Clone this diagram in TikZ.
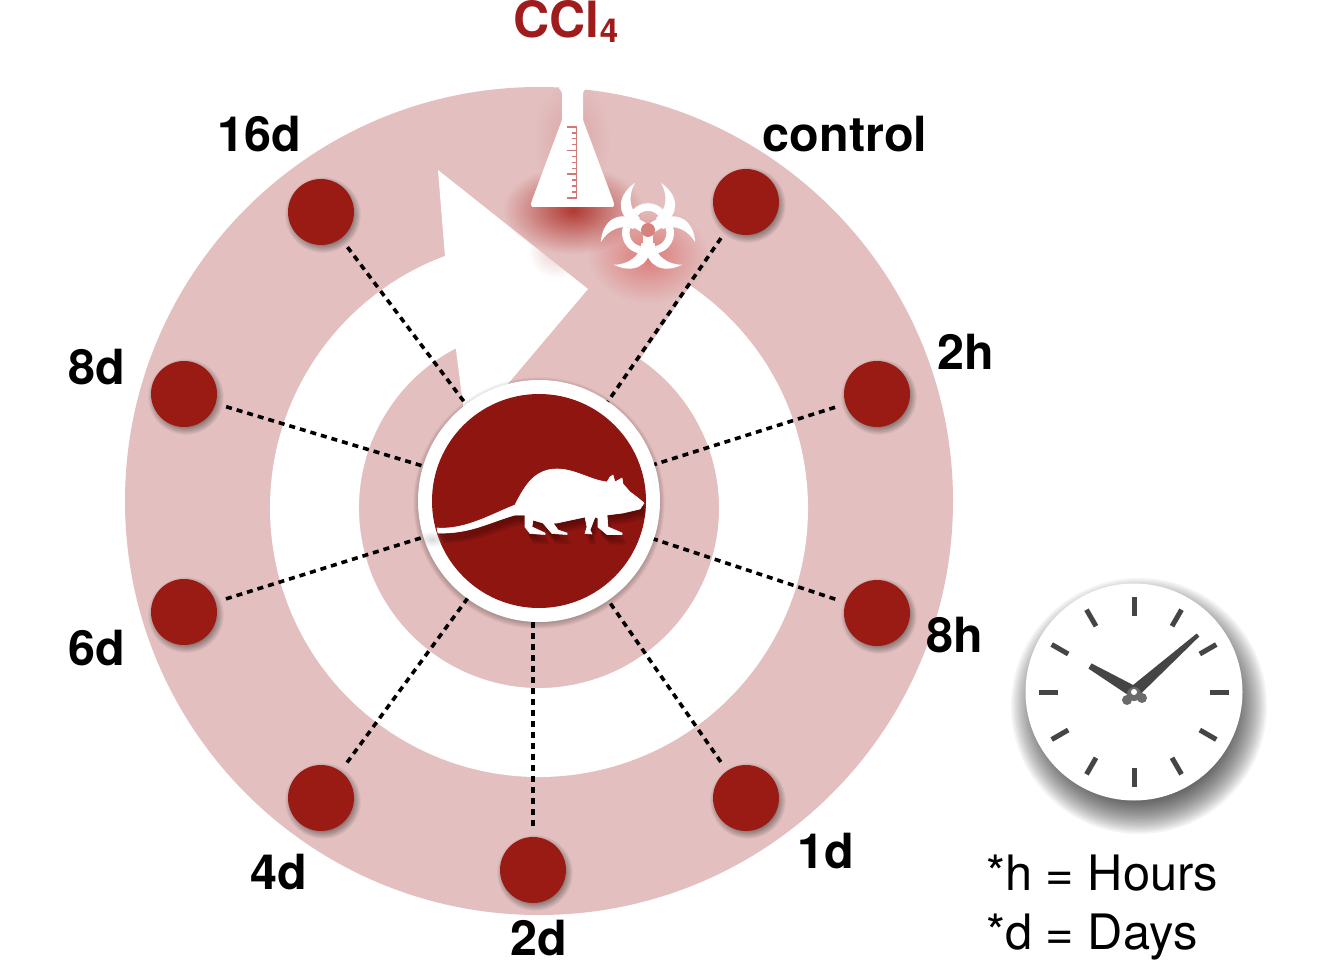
\documentclass[tikz,border=0pt]{standalone}
\usepackage{fontspec}
\setmainfont{TeX Gyre Heros}
\usetikzlibrary{fadings}
\definecolor{ringpink}{HTML}{E3BFBF}
\definecolor{dotred}{HTML}{9A1A14}
\definecolor{mousered}{HTML}{8F1511}
\definecolor{ccl}{HTML}{A01C1C}
\definecolor{tick}{HTML}{D07A78}
\definecolor{hand}{HTML}{454545}
\tikzfading[name=glow, inner color=transparent!0, outer color=transparent!100]
\tikzset{
  dotnode/.style={circle,fill=dotred,minimum size=66pt,inner sep=0pt,outer sep=0pt},
  tlabel/.style={anchor=base,inner sep=0pt,font=\fontsize{48.5}{50}\selectfont\bfseries},
  legend/.style={anchor=base west,inner sep=0pt,font=\fontsize{48.8}{50}\selectfont},
  dotline/.style={draw=black,line width=3.6pt,dash pattern=on 6pt off 5pt,shorten <=11pt},
  clocktick/.style={draw=hand,line width=5pt}
}
% soft blurred disc: x, y, radius, spread, opacity per layer
\newcommand\softdisc[5]{%
  \foreach \i in {0,...,29}{
    \pgfmathsetmacro{\rr}{#3+#4-\i*#4*2/29}
    \fill[black,opacity=#5] (#1,#2) circle[radius=\rr pt];
  }
}
\newcommand\softdot[2]{\softdisc{#1+2}{#2+3}{33}{5}{0.016}}
\newcommand\ratpath{(437,528) .. controls (465,530) and (490,515) .. (515,505) .. controls (525,485) and (535,469) .. (557,469) .. controls (575,469) and (590,480) .. (607,482) -- (610,477) -- (613,475) -- (615,482) -- (622,478) -- (623,484) -- (630,492) -- (638,498) -- (644,503) -- (640,509) -- (623,513) -- (607,515) -- (608,527) -- (622,533) -- (622,534.5) -- (607,534.5) -- (598,527) -- (598,518) -- (595,517) -- (590,530) -- (592,534) -- (585,533.5) -- (587,527) -- (585,517) -- (557,523) -- (553,523) -- (558,530) -- (567,533) -- (567,534.5) -- (552,533.5) -- (543,523) -- (533,520) -- (532,527) -- (545,533) -- (545,534.5) -- (530,533.5) -- (525,527) -- (525,515) -- (515,515) .. controls (490,522) and (470,534) .. (438,533) -- cycle}
\begin{document}
\begin{tikzpicture}[x=1pt,y=-1pt]
\useasboundingbox (0,0) rectangle (1344,960);
\fill[white] (0,0) rectangle (1344,960);
% rings
\fill[ringpink] (539,501) circle[radius=414pt];
\fill[white] ([shift={(55.8:269pt)}]539,508) arc[start angle=55.8,end angle=-255,radius=269pt]
  -- ([shift={(-255:180pt)}]539,508) arc[start angle=-255,end angle=55.8,radius=180pt] -- cycle;
% arrow head
\fill[white] (438,170) -- (588,289) -- (490,405) -- (464,412) -- (456,350) -- (445,257) -- cycle;
% glows
\begin{scope}
\clip (539,501) circle[radius=414pt];
\fill[ringpink!80!black!70!red,opacity=.3,path fading=glow] (572,140) ellipse[x radius=38pt,y radius=60pt];
\fill[ringpink,opacity=.8,path fading=glow] (556,250) ellipse[x radius=28pt,y radius=28pt];
\fill[color={rgb,255:red,178;green,56;blue,50},path fading=glow] (573,210) ellipse[x radius=70pt,y radius=44pt];
\fill[color={rgb,255:red,216;green,92;blue,88},opacity=.7,path fading=glow] (648,255) ellipse[x radius=60pt,y radius=48pt];
\end{scope}
% flask
\fill[white,rounded corners=1.5pt] (558,87) -- (562,92) -- (562,120) -- (531,203) -- (531,207) -- (614,207) -- (614,203) -- (583,120) -- (583,92) -- (587,87) -- cycle;
\draw[tick,line width=1.6pt] (576.5,127) -- (576.5,198);
\foreach \k in {0,...,12}{
  \pgfmathsetmacro{\yy}{127+\k*5.9}
  \pgfmathtruncatemacro{\mj}{mod(\k,4)==0 ? 1 : 0}
  \ifnum\mj=1
    \draw[tick,line width=1.8pt] (567,\yy) -- (577,\yy);
  \else
    \draw[tick,line width=1.4pt] (571.5,\yy) -- (577,\yy);
  \fi
}
% biohazard
\begin{scope}[shift={(648,230)}]
\foreach \ang in {0,120,240}{
  \begin{scope}[rotate=\ang]
    \fill[white] (-13,-47) .. controls (-31,-35) and (-32,-16) .. (-15,-6) -- (-8,-12) .. controls (-19,-20) and (-20,-35) .. (-13,-47) -- cycle;
    \fill[white] (13,-47) .. controls (31,-35) and (32,-16) .. (15,-6) -- (8,-12) .. controls (19,-20) and (20,-35) .. (13,-47) -- cycle;
    \draw[white,line width=7.5pt] (-13,-17) .. controls (-6,-25) and (6,-25) .. (13,-17);
    \draw[white,line width=10pt] (0,0) -- (0,18);
  \end{scope}
}
\fill[color={rgb,255:red,214;green,130;blue,126}] (0,0) circle[radius=7pt];
\end{scope}
% mouse disc
\softdisc{539}{503}{121}{5}{0.012}
\node[circle,fill=white,minimum size=242pt,inner sep=0pt,outer sep=0pt] (mouse) at (539,501) {};
\fill[mousered] (mouse.center) circle[radius=107pt];
\begin{scope}
\clip (mouse.center) circle[radius=107pt];
\foreach \s in {2,4,6,8,10}{
  \fill[color={rgb,255:red,60;green,6;blue,4},opacity=.16,shift={(\s*0.4,\s)}] \ratpath;
}
\end{scope}
\fill[white,draw=white,line width=.6pt,line join=round] \ratpath;
\fill[gray,opacity=.3,path fading=glow] (432,539) ellipse[x radius=14pt,y radius=8pt];
% time-point dots
\softdot{321}{212}\softdot{746}{202}\softdot{877}{394}\softdot{877}{613}\softdot{746}{798}\softdot{533}{870}\softdot{321}{798}\softdot{184}{612}\softdot{184}{394}
\node[dotnode] (d16) at (321,212) {};
\node[dotnode] (dctl) at (746,202) {};
\node[dotnode] (h2) at (877,394) {};
\node[dotnode] (h8) at (877,613) {};
\node[dotnode] (d1) at (746,798) {};
\node[dotnode] (d2) at (533,870) {};
\node[dotnode] (d4) at (321,798) {};
\node[dotnode] (d6) at (184,612) {};
\node[dotnode] (d8) at (184,394) {};
% connectors
\draw[dotline] (d16) -- (mouse);
\draw[dotline] (dctl) -- (mouse);
\draw[dotline] (h2) -- (mouse);
\draw[dotline] (h8) -- (mouse);
\draw[dotline] (d1) -- (mouse);
\draw[dotline] (d2) -- (d2 |- mouse.south);
\draw[dotline] (d4) -- (mouse);
\draw[dotline] (d6) -- (mouse);
\draw[dotline] (d8) -- (mouse);
% labels
\node[tlabel,text=ccl,font=\fontsize{50}{50}\selectfont\bfseries] (lccl) at (566,38) {CCl{\fontsize{33}{33}\selectfont\raisebox{-5pt}{4}}};
\node[tlabel] (l16) at (259,152) {16d};
\node[tlabel] (lctl) at (845,152) {control};
\node[tlabel] (l2h) at (966,369) {2h};
\node[tlabel] (l8h) at (955,652) {8h};
\node[tlabel] (l1d) at (826,868) {1d};
\node[tlabel] (l2d) at (539,955) {2d};
\node[tlabel] (l4d) at (279,889) {4d};
\node[tlabel] (l6d) at (97,665) {6d};
\node[tlabel] (l8d) at (97,384) {8d};
\node[legend] (lh) at (986,890) {*h = Hours};
\node[legend] (ld) at (986,949) {*d = Days};
% clock
\softdisc{1139}{706}{102}{26}{0.045}
\node[circle,fill=white,minimum size=217pt,inner sep=0pt,outer sep=0pt] (clock) at (1134,692) {};
\foreach \a in {0,30,...,330}{
  \draw[clocktick] ([shift={(\a:76pt)}]clock.center) -- ([shift={(\a:95pt)}]clock.center);
}
\fill[hand] (1091.5,663.4) -- (1088.5,668.6) -- (1131,697) -- (1137,687) -- cycle;
\fill[hand] (1199.3,636.5) -- (1196.7,633.5) -- (1130,687.5) -- (1138,696.5) -- cycle;
\fill[hand!80!white] (1127,700) circle[radius=5pt] (1142,698) circle[radius=5pt] (1134,694) circle[radius=7pt];
\fill[white] (1134,692) circle[radius=3pt];
\end{tikzpicture}
\end{document}
